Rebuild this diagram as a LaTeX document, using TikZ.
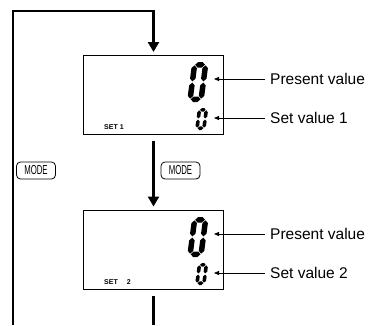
\documentclass[tikz,border=0pt]{standalone}
\usepackage{fontspec}
\setmainfont{Liberation Sans}
\usepackage{tikz}
\usetikzlibrary{
    arrows.meta,
    calc
}

% one LCD segment, horizontal and vertical
\newcommand{\hseg}[4]{\fill (#1,#3) -- ({#1+#4/2},{#3+#4/2}) -- ({#2-#4/2},{#3+#4/2}) -- (#2,#3) -- ({#2-#4/2},{#3-#4/2}) -- ({#1+#4/2},{#3-#4/2}) -- cycle;}
\newcommand{\vseg}[4]{\fill (#1,#2) -- ({#1+#4/2},{#2+#4/2}) -- ({#1+#4/2},{#3-#4/2}) -- (#1,#3) -- ({#1-#4/2},{#3-#4/2}) -- ({#1-#4/2},{#2+#4/2}) -- cycle;}
% LCD digit 0: x, y (lower left), width, height, thickness
\newcommand{\lcdzero}[5]{%
  \begin{scope}[shift={(#1,#2)},x=1pt,y=1pt,xslant=0.13]
    \pgfmathsetmacro{\segL}{#5/2}
    \pgfmathsetmacro{\segR}{#3-#5/2}
    \pgfmathsetmacro{\segT}{#4-#5/2}
    \pgfmathsetmacro{\segM}{#4/2}
    \def\segG{0.6}
    \hseg{\segL+\segG}{\segR-\segG}{\segT}{#5}
    \hseg{\segL+\segG}{\segR-\segG}{\segL}{#5}
    \vseg{\segL}{\segL+\segG}{\segM-\segG}{#5}
    \vseg{\segL}{\segM+\segG}{\segT-\segG}{#5}
    \vseg{\segR}{\segL+\segG}{\segM-\segG}{#5}
    \vseg{\segR}{\segM+\segG}{\segT-\segG}{#5}
  \end{scope}}

\begin{document}
\begin{tikzpicture}[x=1pt,y=-1pt,
    lcd/.style={draw, line width=1pt, minimum width=140pt, minimum height=79pt, inner sep=0pt},
    flow/.style={line width=2.8pt, -{Triangle[length=10pt,width=11pt]}},
    flowline/.style={line width=2.8pt},
    pointer/.style={line width=0.8pt, -{Triangle[length=5pt,width=4pt]}},
    lbl/.style={font=\fontsize{15.5}{18}\selectfont, inner xsep=5pt, inner ysep=0pt, anchor=west},
    setlbl/.style={font=\fontsize{7}{8}\selectfont\bfseries, inner sep=0pt, anchor=west},
    modekey/.style={draw, line width=0.8pt, rounded corners=4pt, minimum width=39pt, minimum height=17pt, inner sep=0pt}
]
\useasboundingbox (0,0) rectangle (370,325);

% Displays
\node[lcd] (disp1) at (153.5,94.5) {};
\node[lcd] (disp2) at (153.5,249.5) {};

% Digits
\lcdzero{187}{102}{16.5}{40}{5.5}
\lcdzero{195}{130}{10.5}{22}{3.6}
\lcdzero{187}{257}{16.5}{40}{5.5}
\lcdzero{195}{285}{10.5}{22}{3.6}

\node[setlbl] (set1) at (104,127) {SET 1};
\node[setlbl] (set2) at (104,282) {SET\hspace{9pt}2};

% Labels
\node[lbl] (pv1) at (265,79) {Present value};
\node[lbl] (sv1) at (265,118) {Set value 1};
\node[lbl] (pv2) at (265,234) {Present value};
\node[lbl] (sv2) at (265,273) {Set value 2};
\coordinate (pvtip1) at (214,79);
\coordinate (svtip1) at (214,118);
\coordinate (pvtip2) at (214,234);
\coordinate (svtip2) at (214,273);
\draw[pointer] (pv1.west) -- (pvtip1);
\draw[pointer] (sv1.west) -- (svtip1);
\draw[pointer] (pv2.west) -- (pvtip2);
\draw[pointer] (sv2.west) -- (svtip2);

% Keys
\node[modekey] (mode1) at (36,170.5) {\scalebox{0.6}[1]{\fontsize{13}{13}\selectfont MODE}};
\node[modekey] (mode2) at (180.5,170.5) {\scalebox{0.6}[1]{\fontsize{13}{13}\selectfont MODE}};

% Flow
\coordinate (loopin) at (13,325);
\coordinate (corner) at (13,11);
\coordinate (loopout) at (153.5,325);
\draw[flow, shorten >=2.5pt] (loopin) -- (corner) -| (disp1.north);
\draw[flow, shorten <=6pt, shorten >=3pt] (disp1.south) -- (disp2.north);
\draw[flowline, shorten <=6pt] (disp2.south) -- (loopout);

\end{tikzpicture}
\end{document}
